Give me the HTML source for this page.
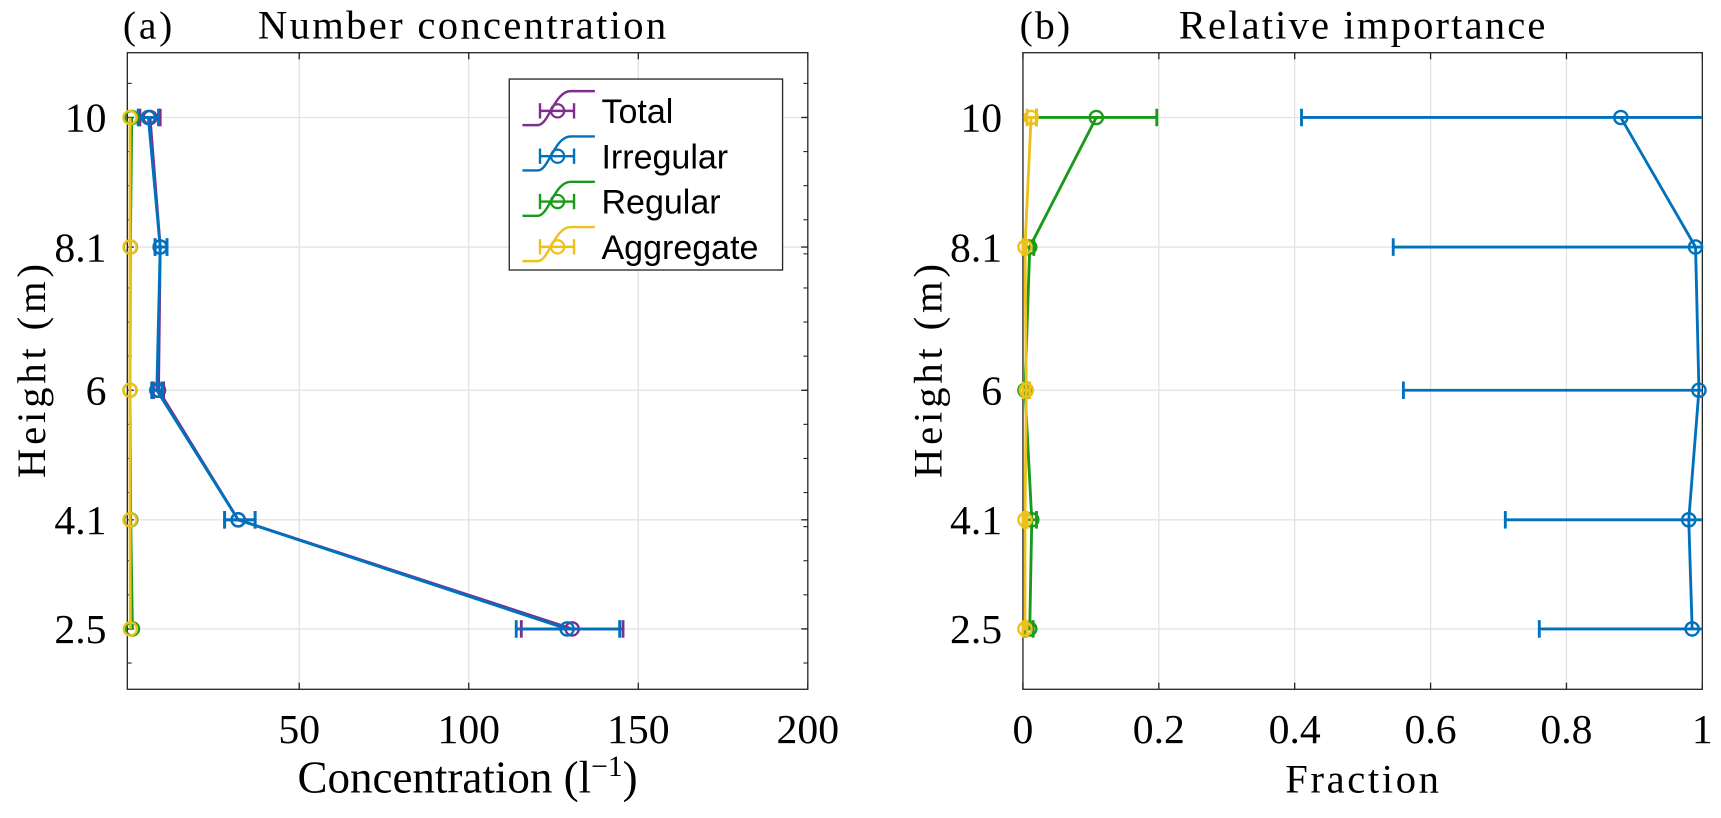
<!DOCTYPE html>
<html><head><meta charset="utf-8"><style>
html,body{margin:0;padding:0;background:#fff;}
svg text{font-family:"Liberation Serif",serif;fill:#000;}
</style></head><body>
<svg id="fig" width="1721" height="813" viewBox="0 0 1568 740.7" xmlns="http://www.w3.org/2000/svg"></svg>
<script>
const heights = [10, 8.1, 6, 4.1, 2.5];
const yTicks = [2.5, 4.1, 6, 8.1, 10];
const yTickLabels = ["2.5","4.1","6","8.1","10"];
// panel a (concentration, l^-1)
const aTotal = [6, 9, 8.5, 32, 130.5];
const aTotalLo = [3, 7.5, 7, 28, 115.5];
const aTotalHi = [9, 11, 10, 37, 145.5];
const aIrr = [5.5, 9, 8, 32, 129];
const aIrrLo = [2.5, 7.5, 6.5, 28, 114];
const aIrrHi = [8.5, 11, 9.5, 37, 144.5];
const aReg = [0.6, 0.2, 0.1, 0.3, 0.8];
const aAgg = [0.1, 0.1, 0.1, 0.1, 0.2];
const aXTicks = [50, 100, 150, 200];
// panel b (fraction)
const bIrr = [0.88, 0.99, 0.995, 0.98, 0.985];
const bIrrLo = [0.41, 0.545, 0.56, 0.71, 0.76];
const bIrrHi = [1.0, 1.0, 1.0, 1.0, 1.0];
const bReg = [0.108, 0.01, 0.003, 0.013, 0.01];
const bRegLo = [0.02, 0.003, 0.0, 0.006, 0.004];
const bRegHi = [0.197, 0.016, 0.006, 0.02, 0.015];
const bAgg = [0.012, 0.003, 0.005, 0.003, 0.003];
const bAggLo = [0.006, 0.0, 0.0, 0.0, 0.0];
const bAggHi = [0.02, 0.005, 0.01, 0.006, 0.006];
const bXTicks = [0, 0.2, 0.4, 0.6, 0.8, 1];
const bXTickLabels = ["0","0.2","0.4","0.6","0.8","1"];

const NS="http://www.w3.org/2000/svg";
const svg=document.getElementById('fig');
function mk(tag,attrs,parent){const e=document.createElementNS(NS,tag);for(const k in attrs)e.setAttribute(k,attrs[k]);(parent||svg).appendChild(e);return e;}
const plotTop=48,plotBot=628;
function yS(v){return 573-(v-2.5)*62.13;}
const C={total:"#7E2F8E",irr:"#0072BD",reg:"#1a9a1a",agg:"#EDC01A"};

function panel(x0,x1,xmin,xmax,name){
  const g=mk('g',{});
  
  
  const xS=v=>x0+(v-xmin)/(xmax-xmin)*(x1-x0);
  return {g,xS};
}
function axesFrame(p,x0,x1,xTicks,xLabels,minor){
  const g=p.g;
  xTicks.forEach(t=>{const x=p.xS(t);if(x>x0+2&&x<x1-2){const l=mk('line',{x1:x,x2:x,y1:plotTop,y2:plotBot,stroke:"#e3e3e3","stroke-width":1.2},g);}});
  yTicks.forEach(t=>{const y=yS(t);const l=mk('line',{x1:x0,x2:x1,y1:y,y2:y,stroke:"#e3e3e3","stroke-width":1.2},g);});
  const r=mk('rect',{x:x0,y:plotTop,width:x1-x0,height:plotBot-plotTop,fill:"none",stroke:"#262626","stroke-width":1.2},g);
  
  xTicks.forEach((t,i)=>{const x=p.xS(t);
    mk('line',{x1:x,x2:x,y1:plotBot,y2:plotBot-6,stroke:"#262626","stroke-width":1.2},g);
    mk('line',{x1:x,x2:x,y1:plotTop,y2:plotTop+6,stroke:"#262626","stroke-width":1.2},g);
    const tx=mk('text',{x:x,y:plotBot+23+26,"font-size":38,"text-anchor":"middle"},g);tx.textContent=xLabels[i];
    });
  yTicks.forEach((t,i)=>{const y=yS(t);
    mk('line',{x1:x0,x2:x0+6,y1:y,y2:y,stroke:"#262626","stroke-width":1.2},g);
    mk('line',{x1:x1,x2:x1-6,y1:y,y2:y,stroke:"#262626","stroke-width":1.2},g);
    const tx=mk('text',{x:x0-19,y:y+13,"font-size":38,"text-anchor":"end"},g);tx.textContent=yTickLabels[i];
    });
  if(minor){for(let v=2;v<=11;v+=0.5){const y=yS(v);if(y>plotTop&&y<plotBot){mk('line',{x1:x0,x2:x0+4,y1:y,y2:y,stroke:"#262626","stroke-width":1},g);mk('line',{x1:x1,x2:x1-4,y1:y,y2:y,stroke:"#262626","stroke-width":1},g);}}}
}
function series(p,vals,lo,hi,color,name,clipMax){
  const g=mk('g',{},p.g);
  
  
  const pts=vals.map((v,i)=>p.xS(v)+","+yS(heights[i])).join(" ");
  mk('polyline',{points:pts,fill:"none",stroke:color,"stroke-width":2.6},g);
  vals.forEach((v,i)=>{const y=yS(heights[i]);
    if(lo){const a=p.xS(lo[i]),b=Math.min(p.xS(hi[i]),clipMax||1e9);
      mk('line',{x1:a,x2:b,y1:y,y2:y,stroke:color,"stroke-width":2.6},g);
      mk('line',{x1:a,x2:a,y1:y-8,y2:y+8,stroke:color,"stroke-width":2.6},g);
      if(!clipMax||p.xS(hi[i])<clipMax-1)mk('line',{x1:b,x2:b,y1:y-8,y2:y+8,stroke:color,"stroke-width":2.6},g);}
    const c=mk('circle',{cx:p.xS(v),cy:y,r:6,fill:"none",stroke:color,"stroke-width":2.2},g);
    
    });
}
const pa=panel(116,736,-0.7,200,'panel-a');
axesFrame(pa,116,736,aXTicks,aXTicks.map(String),true);
series(pa,aTotal,aTotalLo,aTotalHi,C.total,'series-total');
series(pa,aIrr,aIrrLo,aIrrHi,C.irr,'series-irregular');
series(pa,aReg,null,null,C.reg,'series-regular');
series(pa,aAgg,null,null,C.agg,'series-aggregate');
const pb=panel(932,1551,0,1,'panel-b');
axesFrame(pb,932,1551,bXTicks,bXTickLabels,false);
series(pb,bIrr,bIrrLo,bIrrHi,C.irr,'series-irregular-fraction',1551);
series(pb,bReg,bRegLo,bRegHi,C.reg,'series-regular-fraction');
series(pb,bAgg,bAggLo,bAggHi,C.agg,'series-aggregate-fraction');

function txt(x,y,s,size,name,anchor,extra){const t=mk('text',Object.assign({x:x,y:y,"font-size":size,"text-anchor":anchor||"middle"},extra||{}));t.textContent=s;return t;}
txt(112,35,"(a)",36,'panel-a-label','start',{textLength:45});
txt(421,35,"Number concentration",37,'panel-a-title','middle',{textLength:372});
txt(929,35,"(b)",36,'panel-b-label','start',{textLength:46});
txt(1241,35,"Relative importance",37,'panel-b-title','middle',{textLength:334});
const xt=mk('text',{x:426,y:722,"font-size":41,"text-anchor":"middle"});
xt.innerHTML='Concentration (l<tspan dy="-15" font-size="27">−1</tspan><tspan dy="15">)</tspan>';


txt(1241,722,"Fraction",37,'x-axis-title-b','middle',{textLength:140});
txt(41,338,"Height (m)",37,'y-axis-title-a','middle',{transform:"rotate(-90 41 338)",textLength:195});
txt(858,338,"Height (m)",37,'y-axis-title-b','middle',{transform:"rotate(-90 858 338)",textLength:195});
const lg=mk('g',{});


mk('rect',{x:464,y:72,width:249,height:174,fill:"#fff",stroke:"#262626","stroke-width":1.2},lg);
[["Total",C.total],["Irregular",C.irr],["Regular",C.reg],["Aggregate",C.agg]].forEach((e,i)=>{
  const y=101+i*41.3;
  const eg=mk('g',{},lg);
  
  
  mk('path',{d:`M476 ${y+13} L490 ${y+13} C500 ${y+13} 505 ${y-18} 520 ${y-18} L542 ${y-18}`,fill:"none",stroke:e[1],"stroke-width":2.2},eg);
  mk('line',{x1:492,x2:523,y1:y,y2:y,stroke:e[1],"stroke-width":2.2},eg);
  mk('line',{x1:492,x2:492,y1:y-7,y2:y+7,stroke:e[1],"stroke-width":2.2},eg);
  mk('line',{x1:523,x2:523,y1:y-7,y2:y+7,stroke:e[1],"stroke-width":2.2},eg);
  mk('circle',{cx:508,cy:y,r:6,fill:"none",stroke:e[1],"stroke-width":2},eg);
  const t=mk('text',{x:548,y:y+11,"font-size":31,style:"font-family:'Liberation Sans',sans-serif"},eg);t.textContent=e[0];
});
</script>
</body></html>
